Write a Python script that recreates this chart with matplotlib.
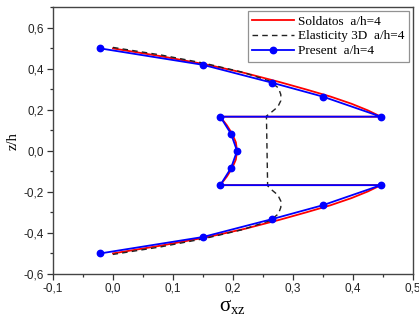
import matplotlib
matplotlib.use("Agg")
import matplotlib.pyplot as plt
from matplotlib.ticker import MultipleLocator, FuncFormatter

# Present (FE) results
present_x = [-0.021, 0.150, 0.265, 0.350, 0.447, 0.179, 0.197, 0.207, 0.197, 0.179,
             0.447, 0.350, 0.265, 0.150, -0.021]
present_z = [0.500, 0.420, 0.333, 0.265, 0.167, 0.167, 0.083, 0.000, -0.083, -0.167,
             -0.167, -0.265, -0.333, -0.420, -0.500]

# Soldatos solution
sold_x = [0.000, 0.080, 0.155, 0.220, 0.278, 0.322, 0.363, 0.398, 0.425, 0.447,
          0.179, 0.190, 0.199, 0.205, 0.207, 0.205, 0.199, 0.190, 0.179,
          0.447, 0.425, 0.398, 0.363, 0.322, 0.278, 0.220, 0.155, 0.080, 0.000]
sold_z = [0.500, 0.462, 0.422, 0.380, 0.336, 0.300, 0.265, 0.230, 0.198, 0.167,
          0.167, 0.125, 0.083, 0.042, 0.000, -0.042, -0.083, -0.125, -0.167,
          -0.167, -0.198, -0.230, -0.265, -0.300, -0.336, -0.380, -0.422, -0.462, -0.500]

# 3D elasticity solution
elas_x = [0.000, 0.080, 0.152, 0.215, 0.262, 0.276, 0.280, 0.280, 0.275, 0.264, 0.256,
          0.258,
          0.264, 0.275, 0.280, 0.280, 0.276, 0.262, 0.215, 0.152, 0.080, 0.000]
elas_z = [0.505, 0.468, 0.428, 0.385, 0.340, 0.307, 0.275, 0.245, 0.215, 0.188, 0.170,
          -0.170,
          -0.188, -0.215, -0.245, -0.275, -0.307, -0.340, -0.385, -0.428, -0.468, -0.505]

x_ticks = [-0.1, 0.0, 0.1, 0.2, 0.3, 0.4, 0.5]
y_ticks = [-0.6, -0.4, -0.2, 0.0, 0.2, 0.4, 0.6]

plt.rcParams['mathtext.fontset'] = 'custom'
plt.rcParams['mathtext.rm'] = 'Liberation Serif'
plt.rcParams['mathtext.it'] = 'Liberation Serif:italic'

fig = plt.figure(figsize=(4.19, 3.23), dpi=100)
ax = fig.add_axes([0.1265, 0.152, 0.8585, 0.825])

ax.plot(sold_x, sold_z, color='#ff0000', lw=1.3, label='Soldatos  a/h=4', zorder=2)
ax.plot(elas_x, elas_z, color='#222222', lw=1.0, ls=(0, (4, 3)), label='Elasticity 3D  a/h=4', zorder=3)
ax.plot(present_x, present_z, color='#0000ff', lw=1.3, marker='o', ms=4.6,
        label='Present  a/h=4', zorder=4)

ax.set_xlim(-0.1, 0.5)
ax.set_ylim(-0.6, 0.7)
ax.set_xticks(x_ticks)
ax.set_yticks(y_ticks)
ax.xaxis.set_minor_locator(MultipleLocator(0.05))
ax.yaxis.set_minor_locator(MultipleLocator(0.1))
fmt = FuncFormatter(lambda v, p: ('%.1f' % v).replace('.', ','))
ax.xaxis.set_major_formatter(fmt)
ax.yaxis.set_major_formatter(fmt)
ax.tick_params(which='both', direction='out', top=False, right=False,
               labelsize=8.5, colors='#333333', labelcolor='#222222')
ax.tick_params(which='major', length=4, width=0.9, pad=2.5)
ax.tick_params(which='minor', length=2.5, width=0.9)
for lab in ax.get_xticklabels() + ax.get_yticklabels():
    lab.set_family('Liberation Sans')
for sp in ax.spines.values():
    sp.set_color('#444444')
    sp.set_linewidth(1.0)

ax.set_ylabel('z/h', family='Liberation Serif', fontsize=10.5)
ax.yaxis.set_label_coords(-0.094, 0.5)
ax.set_xlabel(r'$\mathrm{\sigma_{xz}}$', fontsize=15, labelpad=1)

leg = ax.legend(loc='upper right', bbox_to_anchor=(1.0, 1.0), prop={'family': 'Liberation Serif', 'size': 9.5},
                frameon=True, fancybox=False, edgecolor='#777777', borderpad=0.35,
                handlelength=3.2, handletextpad=0.3, labelspacing=0.2, borderaxespad=0.25)
leg.get_frame().set_linewidth(0.9)

fig.savefig('out.png', dpi=100)
